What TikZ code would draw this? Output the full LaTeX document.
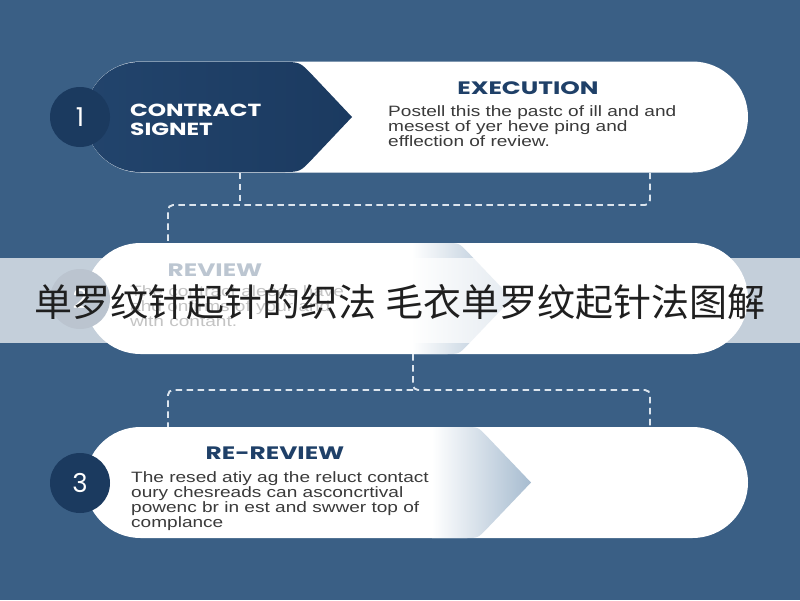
\documentclass[tikz,border=0pt]{standalone}
\usepackage{fontspec}
\setmainfont{Liberation Sans}
\newfontfamily\headfont{Poppins}
\newfontfamily\cjkfont{Noto Sans CJK SC}
\usetikzlibrary{shapes.misc}
\definecolor{bg}{HTML}{3A5F85}
\definecolor{navyL}{HTML}{22446C}
\definecolor{navyR}{HTML}{1B3A60}
\definecolor{circ}{HTML}{1B3A5F}
\definecolor{headc}{HTML}{1F4068}
\definecolor{bodyc}{HTML}{3A3A3A}
\definecolor{steel}{HTML}{A7BCD0}
\definecolor{dashc}{HTML}{DCE5EE}
\newcommand\hwide[1]{\scalebox{1.38}[1]{#1}}
\newcommand\bodytext[1]{\scalebox{1.27}[1]{\begin{tabular}{@{}l@{}}#1\end{tabular}}}
\begin{document}
\begin{tikzpicture}[x=1pt,y=1pt,
  pill/.style={rounded rectangle, fill=white, minimum width=663pt, minimum height=111pt, inner sep=0pt},
  numdisc/.style={circle, fill=circ, minimum size=60pt, inner sep=0pt, text=white, font=\headfont\fontsize{26}{26}\selectfont},
  head/.style={inner sep=0pt, text=headc, font=\headfont\bfseries\fontsize{18}{19}\selectfont},
  body/.style={inner sep=0pt, anchor=north west, text=bodyc, font=\fontsize{15}{13.5}\selectfont},
  conn/.style={draw=dashc, line width=1.9pt, dash pattern=on 6.5pt off 4.5pt, rounded corners=5pt}
]
\useasboundingbox (0,0) rectangle (800,-600);
\fill[bg] (0,0) rectangle (800,-600);

% pills
\node[pill] (r1) at (416.5,-117) {};
\node[pill] (r2) at (416.5,-298.5) {};
\node[pill] (r3) at (416.5,-482.5) {};

% row 1 dark chevron
\shade[left color=navyL, right color=navyR]
  (140,-62) -- (282,-62) .. controls (300,-62) and (300,-62) .. (312.4,-75.1)
  -- (352,-117) -- (312.4,-158.9) .. controls (300,-172) and (300,-172) .. (282,-172)
  -- (140,-172) arc[start angle=270, end angle=90, radius=55pt] -- cycle;

% row 2 gradient chevron
\shade[left color=white, right color=steel]
  (412,-243) -- (446,-243) .. controls (459,-243) and (459,-243) .. (468,-252.4)
  -- (512,-298.5) -- (468,-344.6) .. controls (459,-354) and (459,-354) .. (446,-354)
  -- (412,-354) -- cycle;

% row 3 gradient chevron
\shade[left color=white, right color=steel]
  (432,-427) -- (465,-427) .. controls (478,-427) and (478,-427) .. (487,-436.4)
  -- (531,-482.5) -- (487,-528.6) .. controls (478,-538) and (478,-538) .. (465,-538)
  -- (432,-538) -- cycle;

% number discs
\node[numdisc] (n1) at (80,-117) {1};
\node[numdisc] (n2) at (80,-299) {2};
\node[numdisc] (n3) at (80,-483) {3};

% row 1 texts
\node[head, text=white, anchor=west, align=left, font=\headfont\bfseries\fontsize{17.5}{19}\selectfont] (t1) at (130,-119.5) {\scalebox{1.33}[1]{CONTRACT}\\\scalebox{1.33}[1]{SIGNET}};
\node[head] (h1) at (528,-88) {\hwide{EXECUTION}};
\node[body] (b1) at (388,-105.5) {\bodytext{Postell this the pastc of ill and and\\mesest of yer heve ping and\\efflection of review.}};

% row 2 texts
\node[head] (h2) at (215,-270) {\hwide{REVIEW}};
\node[body] (b2) at (130,-285.5) {\bodytext{The contract aleeas have\\ahd onfirms of your and\\with contant.}};

% row 3 texts
\node[head] (h3) at (275,-453) {\hwide{RE-REVIEW}};
\node[body] (b3) at (131,-471.5) {\bodytext{The resed atiy ag the reluct contact\\oury chesreads can asconcrtival\\powenc br in est and swwer top of\\complance}};

% connectors
\coordinate (kL) at (168,0);
\coordinate (k1) at (240,0);
\coordinate (k2) at (413,0);
\coordinate (kR) at (650,0);
\coordinate (j1) at (0,-205);
\coordinate (j2) at (0,-390);
\draw[conn] (r1.south -| kR) -- (kR |- j1) -- (kL |- j1) -- (r2.north -| kL);
\draw[conn] (r1.south -| k1) -- (k1 |- j1);
\draw[conn] (r2.south -| k2) -- (k2 |- j2) -- (kR |- j2) -- (r3.north -| kR);
\draw[conn] (k2 |- j2) -- (kL |- j2) -- (r3.north -| kL);

% translucent band with title
\fill[white, opacity=0.7] (0,-258) rectangle (800,-343);
\node[inner sep=0pt, text=black!88, font=\cjkfont\fontsize{38}{40}\selectfont] (title) at (400,-302) {单罗纹针起针的织法 毛衣单罗纹起针法图解};
\end{tikzpicture}
\end{document}
